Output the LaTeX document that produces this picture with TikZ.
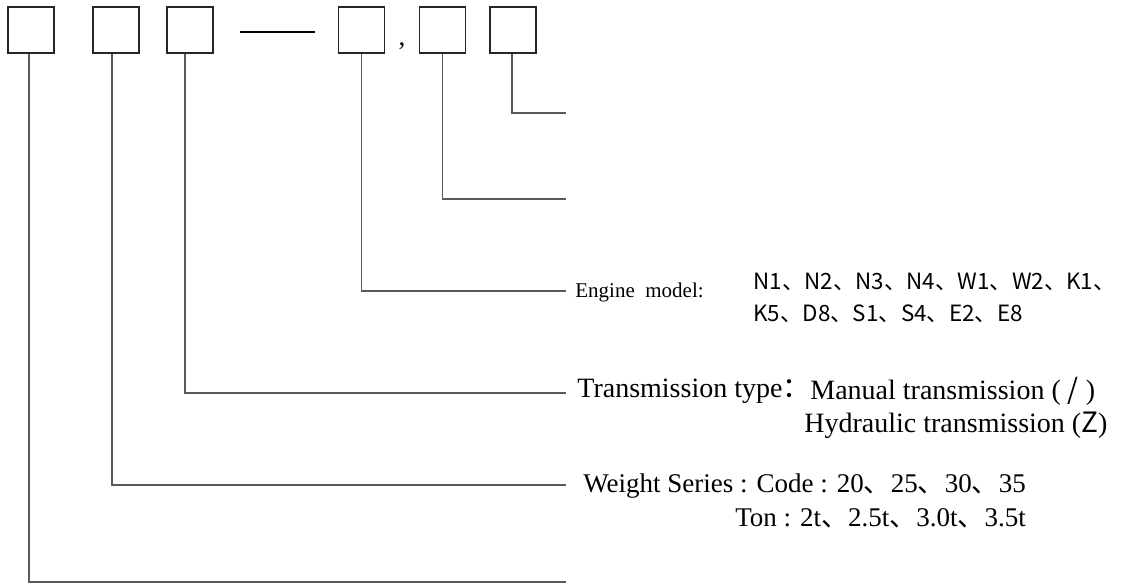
\documentclass[tikz,border=0pt]{standalone}
\usepackage{fontspec}
\setmainfont{Liberation Serif}
\newfontfamily\cjk{Noto Sans CJK SC}
\usetikzlibrary{positioning}

\tikzset{
  box/.style={draw=black!85, line width=0.6pt, minimum size=23pt, inner sep=0pt},
  lead/.style={draw=black!65, line width=0.6pt},
  bigtext/.style={font=\fontsize{13.5}{17}\selectfont, inner sep=0pt},
  transtext/.style={font=\fontsize{14}{17}\selectfont, inner sep=0pt},
  smalltext/.style={font=\fontsize{10.5}{13}\selectfont, inner sep=0pt},
  codetext/.style={font=\cjk\fontsize{11.2}{16}\selectfont, inner sep=0pt, align=left},
}
\newcommand{\dun}{{\cjk 、}}

\begin{document}
\begin{tikzpicture}[x=0.5pt, y=-0.5pt]
  \useasboundingbox (0,0) rectangle (1121,583);

  % Клетки обозначения модели
  \node[box] (b1) at (31,30) {};
  \node[box] (b2) at (116,30) {};
  \node[box] (b3) at (190,30) {};
  \node[box] (b4) at (361.5,30) {};
  \node[box] (b5) at (442.5,30) {};
  \node[box] (b6) at (513,30) {};

  % Тире и запятая между клетками
  \coordinate (d1) at (240,32);
  \coordinate (d2) at (315,32);
  \draw[line width=0.8pt] (d1) -- (d2);
  \node[bigtext, anchor=base] (comma) at (402,46) {,};

  % Концы выносных линий
  \coordinate (e6) at (566,113);
  \coordinate (e5) at (566,199);
  \coordinate (e4) at (566,291);
  \coordinate (e3) at (566,393);
  \coordinate (e2) at (566,485);
  \coordinate (e1) at (566,582);

  % Выносные линии от клеток
  \draw[lead] ([xshift=-0.5pt]b6.south) |- (e6);
  \draw[lead] (b5.south) |- (e5);
  \draw[lead] (b4.south) |- (e4);
  \draw[lead] ([xshift=-2.5pt]b3.south) |- (e3);
  \draw[lead] ([xshift=-2pt]b2.south) |- (e2);
  \draw[lead] ([xshift=-1pt]b1.south) |- (e1);

  % Модель двигателя
  \node[smalltext, anchor=west] (engine) at (575,292) {Engine\enspace model:};
  \node[codetext, anchor=west] (enginecodes) at (753,298)
    {N1、N2、N3、N4、W1、W2、K1、\\K5、D8、S1、S4、E2、E8};

  % Тип трансмиссии
  \node[transtext, anchor=west] (trans) at (577,391) {Transmission type{\cjk ：}};
  \node[transtext, anchor=west] (manual) at (810,391) {Manual transmission ( {\cjk /} )};
  \node[transtext, anchor=west] (hydraulic) at (804,425) {Hydraulic transmission ({\cjk Z})};

  % Серия по массе
  \node[bigtext, anchor=west] (weight) at (583,486)
    {Weight Series : Code : 20\dun 25\dun 30\dun 35};
  \node[bigtext, anchor=east] (ton) at ([yshift=-16pt]weight.east)
    {Ton : 2t\dun 2.5t\dun 3.0t\dun 3.5t};

\end{tikzpicture}
\end{document}
